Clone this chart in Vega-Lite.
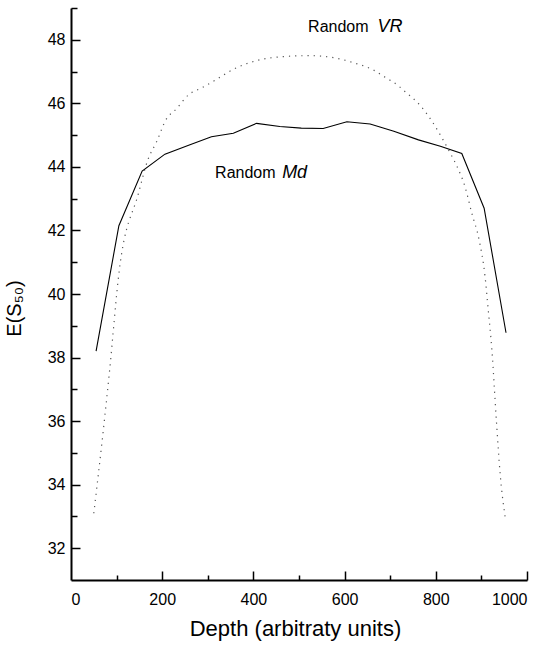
{
  "$schema": "https://vega.github.io/schema/vega-lite/v6.json",
  "width": 456,
  "height": 572,
  "autosize": {"type": "none"},
  "padding": {"left": 71, "top": 8, "right": 19, "bottom": 67},
  "background": "white",
  "config": {
    "view": {"stroke": null},
    "font": "Liberation Sans",
    "axis": {
      "grid": false,
      "domainColor": "black",
      "domainWidth": 2,
      "tickColor": "black",
      "tickWidth": 1.5,
      "labelColor": "black",
      "labelFont": "Liberation Sans",
      "labelFontSize": 16,
      "titleFont": "Liberation Sans",
      "titleFontSize": 20,
      "titleFontWeight": "normal",
      "titleColor": "black"
    }
  },
  "datasets": {
    "md": [
      {"depth": 55, "value": 38.2},
      {"depth": 105, "value": 42.15},
      {"depth": 156, "value": 43.87},
      {"depth": 206, "value": 44.4},
      {"depth": 258, "value": 44.68},
      {"depth": 308, "value": 44.95},
      {"depth": 356, "value": 45.06},
      {"depth": 407, "value": 45.37},
      {"depth": 458, "value": 45.27},
      {"depth": 505, "value": 45.22},
      {"depth": 553, "value": 45.21},
      {"depth": 605, "value": 45.42},
      {"depth": 656, "value": 45.35},
      {"depth": 708, "value": 45.12},
      {"depth": 762, "value": 44.85},
      {"depth": 810, "value": 44.65},
      {"depth": 857, "value": 44.42},
      {"depth": 906, "value": 42.7},
      {"depth": 954, "value": 38.78}
    ],
    "vr": [
      {"depth": 50, "value": 33.1},
      {"depth": 70, "value": 35.6},
      {"depth": 84, "value": 37.5},
      {"depth": 106, "value": 40.76},
      {"depth": 148, "value": 43.17},
      {"depth": 168, "value": 44.2},
      {"depth": 188, "value": 44.8},
      {"depth": 208, "value": 45.48},
      {"depth": 232, "value": 45.84},
      {"depth": 257, "value": 46.26},
      {"depth": 287, "value": 46.49},
      {"depth": 314, "value": 46.71},
      {"depth": 356, "value": 47.07},
      {"depth": 411, "value": 47.36},
      {"depth": 466, "value": 47.47},
      {"depth": 524, "value": 47.5},
      {"depth": 575, "value": 47.44},
      {"depth": 619, "value": 47.28},
      {"depth": 663, "value": 47.05},
      {"depth": 689, "value": 46.82},
      {"depth": 718, "value": 46.55},
      {"depth": 730, "value": 46.4},
      {"depth": 769, "value": 45.88},
      {"depth": 791, "value": 45.45},
      {"depth": 816, "value": 44.85},
      {"depth": 833, "value": 44.4},
      {"depth": 847, "value": 44.0},
      {"depth": 864, "value": 43.38},
      {"depth": 879, "value": 42.54},
      {"depth": 895, "value": 41.7},
      {"depth": 908, "value": 40.55},
      {"depth": 915, "value": 39.5},
      {"depth": 923, "value": 38.24},
      {"depth": 933, "value": 35.98},
      {"depth": 941, "value": 34.36},
      {"depth": 953, "value": 32.9}
    ],
    "labels": [
      {"depth": 520, "value": 48.24, "text": "Random", "part": "plain"},
      {"depth": 672, "value": 48.24, "text": "VR", "part": "italic"},
      {"depth": 316, "value": 43.64, "text": "Random", "part": "plain"},
      {"depth": 463, "value": 43.64, "text": "Md", "part": "italic"}
    ]
  },
  "resolve": {
    "scale": {"x": "shared", "y": "shared"},
    "axis": {"x": "independent", "y": "independent"}
  },
  "layer": [
    {
      "data": {"name": "vr"},
      "mark": {"type": "line", "interpolate": "monotone", "stroke": "#555555", "strokeWidth": 1.2, "strokeDash": [1.2, 5]},
      "encoding": {
        "x": {
          "field": "depth",
          "type": "quantitative",
          "scale": {"domain": [0, 1000], "nice": false, "zero": false},
          "axis": {
            "orient": "bottom",
            "values": [0, 200, 400, 600, 800, 1000],
            "format": "d",
            "ticks": false,
            "labelPadding": 11,
            "title": "Depth (arbitraty units)",
            "titleFontSize": 22,
            "titleX": 224,
            "titleAlign": "center",
            "titleY": 55,
            "titleBaseline": "alphabetic"
          }
        },
        "y": {
          "field": "value",
          "type": "quantitative",
          "scale": {"domain": [31, 49], "nice": false, "zero": false},
          "axis": {
            "orient": "left",
            "values": [32, 34, 36, 38, 40, 42, 44, 46, 48],
            "ticks": false,
            "labelPadding": 6,
            "title": "E(S₅₀)",
            "titleAngle": 270,
            "titleX": -57,
            "titleY": 300,
            "titleAlign": "center",
            "titleBaseline": "middle"
          }
        }
      }
    },
    {
      "data": {"name": "md"},
      "mark": {"type": "line", "stroke": "black", "strokeWidth": 1.1},
      "encoding": {
        "x": {
          "field": "depth",
          "type": "quantitative",
          "scale": {"domain": [0, 1000], "nice": false, "zero": false},
          "axis": {
            "orient": "top",
            "offset": -572,
            "values": [100, 200, 300, 400, 500, 600, 700, 800, 900, 1000],
            "domain": false,
            "labels": false,
            "title": null,
            "tickSize": {"condition": {"test": "datum.value % 200 === 0", "value": 9}, "value": 5}
          }
        },
        "y": {
          "field": "value",
          "type": "quantitative",
          "scale": {"domain": [31, 49], "nice": false, "zero": false},
          "axis": {
            "orient": "right",
            "offset": -456,
            "values": [32, 33, 34, 35, 36, 37, 38, 39, 40, 41, 42, 43, 44, 45, 46, 47, 48, 49],
            "domain": false,
            "labels": false,
            "title": null,
            "tickSize": {"condition": {"test": "datum.value % 2 === 0", "value": 9}, "value": 6}
          }
        }
      }
    },
    {
      "data": {"name": "labels"},
      "transform": [{"filter": "datum.part === 'plain'"}],
      "mark": {"type": "text", "align": "left", "baseline": "alphabetic", "fontSize": 16, "font": "Liberation Sans", "color": "black"},
      "encoding": {
        "x": {"field": "depth", "type": "quantitative", "scale": {"domain": [0, 1000], "nice": false, "zero": false}, "axis": null},
        "y": {"field": "value", "type": "quantitative", "scale": {"domain": [31, 49], "nice": false, "zero": false}, "axis": null},
        "text": {"field": "text"}
      }
    },
    {
      "data": {"name": "labels"},
      "transform": [{"filter": "datum.part === 'italic'"}],
      "mark": {"type": "text", "align": "left", "baseline": "alphabetic", "fontSize": 18, "font": "Liberation Sans", "fontStyle": "italic", "color": "black"},
      "encoding": {
        "x": {"field": "depth", "type": "quantitative", "scale": {"domain": [0, 1000], "nice": false, "zero": false}, "axis": null},
        "y": {"field": "value", "type": "quantitative", "scale": {"domain": [31, 49], "nice": false, "zero": false}, "axis": null},
        "text": {"field": "text"}
      }
    }
  ]
}
